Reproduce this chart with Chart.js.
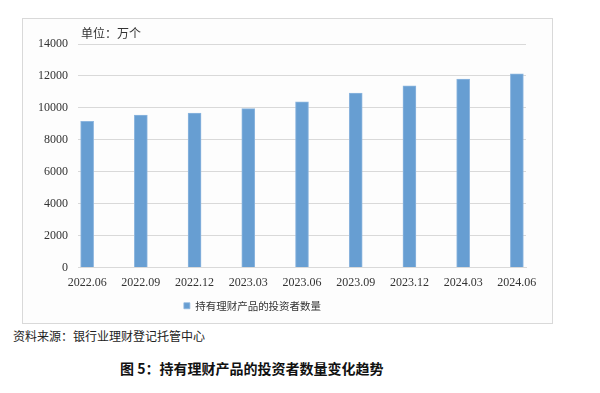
<!DOCTYPE html>
<html>
<head>
<meta charset="utf-8">
<script src="https://cdn.jsdelivr.net/npm/chart.js@4/dist/chart.umd.min.js"></script>
<style>
    body { margin: 0; width: 600px; height: 393px; background: #fff; position: relative; overflow: hidden; }
    #box { position: absolute; left: 22px; top: 18px; width: 529px; height: 304px; border: 1px solid #d9d9d9; background: #fdfdfd; }
    #chart { position: absolute; left: 0; top: 0; }
    #unit { position: absolute; left: 58px; top: 5px; font: 12px "Noto Sans CJK SC"; color: #333; }
    #source { position: absolute; left: 13px; top: 327px; font: 12px "Noto Sans CJK SC"; color: #222; }
    #title { position: absolute; left: 120px; top: 358px; font: bold 14px "Noto Sans CJK SC"; color: #111; }
</style>
</head>
<body>
<div id="box">
    <canvas id="chart" width="529" height="304"></canvas>
    <div id="unit">单位：万个</div>
</div>
<div id="source">资料来源：银行业理财登记托管中心</div>
<div id="title">图 5：持有理财产品的投资者数量变化趋势</div>
<script>
// 数据
const periods = ['2022.06', '2022.09', '2022.12', '2023.03', '2023.06', '2023.09', '2023.12', '2024.03', '2024.06'];
const investors = [9150, 9550, 9680, 9950, 10380, 10920, 11380, 11810, 12130];
const yTicks = [0, 2000, 4000, 6000, 8000, 10000, 12000, 14000];
const seriesName = '持有理财产品的投资者数量';

const serifFont = "'Liberation Serif', 'DejaVu Serif', serif";

// 图例在原图中略偏左
const legendShift = {
    id: 'legendShift',
    afterLayout(chart) {
        if (chart.legend) {
            chart.legend.left -= 22;
            chart.legend.right -= 22;
        }
    }
};

function createChart() {
    const ctx = document.getElementById('chart');
    new Chart(ctx, {
        type: 'bar',
        data: {
            datasets: [{
                label: seriesName,
                data: investors.map((v, i) => ({ x: i, y: v })),
                backgroundColor: '#679ed2',
                borderColor: '#8db6df',
                borderWidth: { left: 1, right: 1, top: 1, bottom: 0 },
                barThickness: 13
            }]
        },
        options: {
            responsive: false,
            animation: false,
            layout: { padding: { left: 0, right: 26, top: 25, bottom: 2 } },
            plugins: {
                legend: {
                    position: 'bottom',
                    labels: {
                        boxWidth: 6,
                        boxHeight: 6,
                        padding: 10,
                        color: '#333',
                        font: { family: 'Noto Sans CJK SC', size: 10.5 }
                    }
                },
                tooltip: { enabled: false }
            },
            scales: {
                x: {
                    type: 'linear',
                    offset: false,
                    min: -0.17,
                    max: 8.17,
                    afterBuildTicks: s => { s.ticks = periods.map((p, i) => ({ value: i })); },
                    afterFit: s => { s.height = 23; },
                    grid: { display: true, drawOnChartArea: false, drawTicks: false, color: '#d9d9d9' },
                    border: { display: true, color: '#d9d9d9' },
                    ticks: {
                        autoSkip: false,
                        maxRotation: 0,
                        padding: 8,
                        color: '#333',
                        font: { family: serifFont, size: 12 },
                        callback: v => periods[v]
                    }
                },
                y: {
                    min: 0,
                    max: 14000,
                    afterBuildTicks: s => { s.ticks = yTicks.map(v => ({ value: v })); },
                    afterFit: s => { s.width = 55; },
                    grid: { color: '#d9d9d9', drawTicks: false },
                    border: { display: false },
                    ticks: {
                        padding: 10,
                        color: '#333',
                        font: { family: serifFont, size: 12 },
                        callback: v => String(v)
                    }
                }
            }
        },
        plugins: [legendShift]
    });
}

window.onload = function() {
    createChart();
};
</script>
</body>
</html>
